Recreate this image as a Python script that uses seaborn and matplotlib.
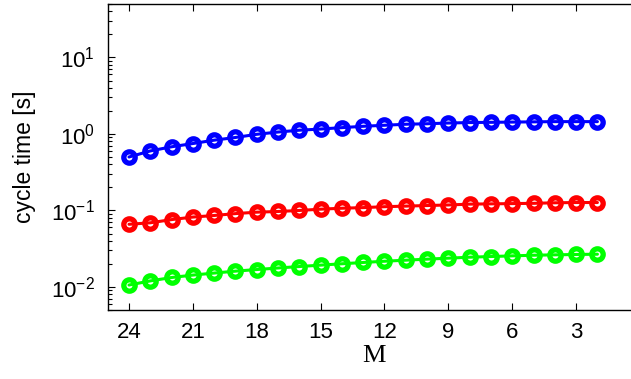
import matplotlib
matplotlib.use("Agg")
import matplotlib.pyplot as plt
import seaborn as sns
import numpy as np
import pandas as pd

M = [24, 23, 22, 21, 20, 19, 18, 17, 16, 15, 14, 13, 12, 11, 10, 9, 8, 7, 6, 5, 4, 3, 2]
blue = [0.50, 0.60, 0.68, 0.75, 0.83, 0.90, 0.99, 1.06, 1.12, 1.16, 1.21, 1.26, 1.30,
        1.34, 1.36, 1.39, 1.41, 1.42, 1.43, 1.44, 1.45, 1.45, 1.45]
red = [0.066, 0.069, 0.076, 0.082, 0.086, 0.091, 0.095, 0.097, 0.100, 0.104, 0.107,
       0.109, 0.112, 0.114, 0.116, 0.118, 0.121, 0.122, 0.123, 0.124, 0.126, 0.127, 0.127]
green = [0.0106, 0.0120, 0.0133, 0.0143, 0.0152, 0.0161, 0.0169, 0.0177, 0.0185, 0.0193,
         0.0201, 0.0209, 0.0217, 0.0224, 0.0231, 0.0238, 0.0245, 0.0250, 0.0255, 0.0260,
         0.0263, 0.0266, 0.0268]
series = {"blue": (blue, (0, 0, 1)), "red": (red, (1, 0, 0)), "green": (green, (0, 1, 0))}
xticks = [24, 21, 18, 15, 12, 9, 6, 3]

sns.set_style("ticks")
plt.rcParams["font.family"] = ["Liberation Sans", "DejaVu Sans"]
plt.rcParams["mathtext.fontset"] = "custom"
plt.rcParams["mathtext.rm"] = "Liberation Sans"
plt.rcParams["mathtext.it"] = "Liberation Sans:italic"
plt.rcParams["text.color"] = "black"
plt.rcParams["axes.labelcolor"] = "black"
plt.rcParams["xtick.color"] = "black"
plt.rcParams["ytick.color"] = "black"

fig = plt.figure(figsize=(6.31, 3.79), dpi=100)
ax = fig.add_axes([107.7 / 631, 69 / 379, (640 - 107.7) / 631, 306 / 379])

for name, (vals, col) in series.items():
    df = pd.DataFrame({"M": M, "t": vals})
    sns.lineplot(data=df, x="M", y="t", ax=ax, color=col, linewidth=2.2,
                 marker="o", markersize=8.2, markerfacecolor="none",
                 markeredgecolor=col, markeredgewidth=3.8, sort=False)

ax.set_yscale("log")
ax.set_xlim(25, 0)
ax.set_ylim(0.005, 50)
ax.set_xticks(xticks)
ax.set_xticklabels([str(t) for t in xticks])
ax.set_yticks([0.01, 0.1, 1, 10])
ax.tick_params(axis="both", which="both", direction="in", top=True, right=True,
               labelsize=16, width=0.8, color="black", labelcolor="black")
ax.tick_params(axis="both", which="major", length=5)
ax.tick_params(axis="x", which="major", pad=9)
ax.tick_params(axis="y", which="major", pad=9)
ax.tick_params(axis="both", which="minor", length=3)
ax.xaxis.set_minor_locator(matplotlib.ticker.NullLocator())
for s in ax.spines.values():
    s.set_linewidth(1.0)
    s.set_color("black")

ax.set_xlabel("M", fontsize=19, family="Liberation Serif", labelpad=1)
ax.set_ylabel("cycle time [s]", fontsize=16.5, labelpad=11)

fig.savefig("out.png", dpi=100)
